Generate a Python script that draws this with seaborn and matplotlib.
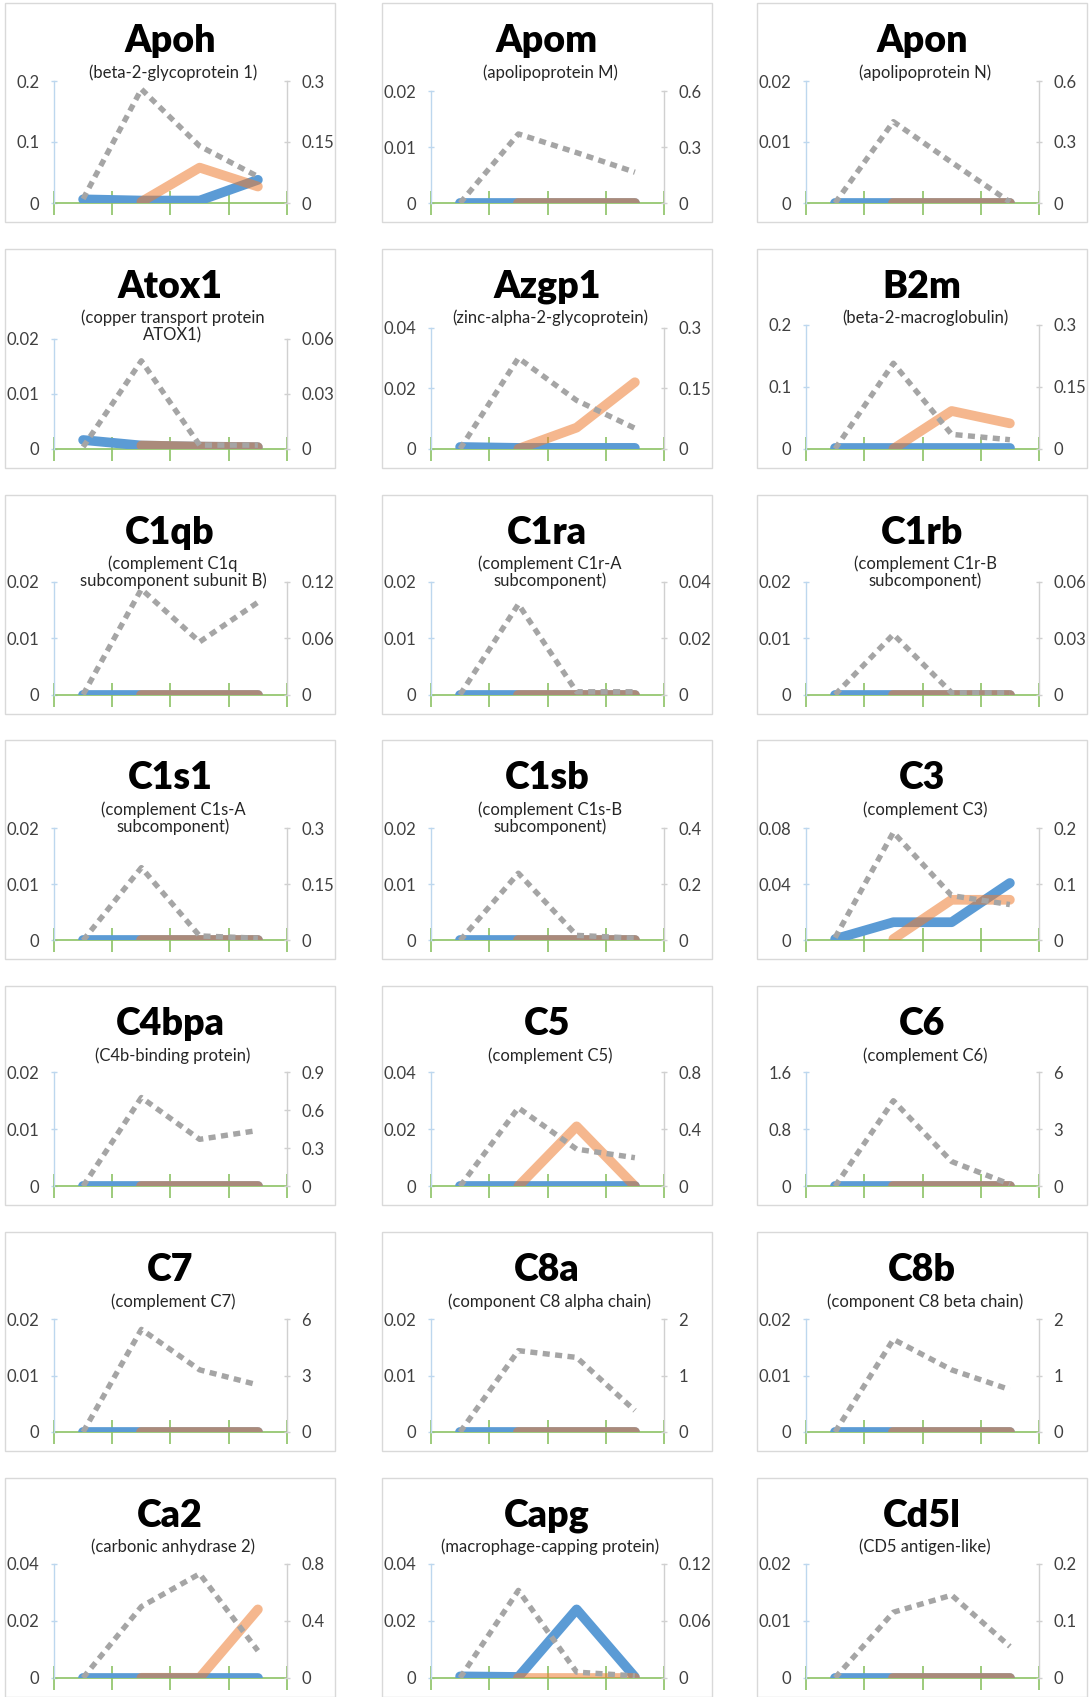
import matplotlib
matplotlib.use("Agg")
import matplotlib.pyplot as plt
import seaborn as sns
import numpy as np
from matplotlib.patches import Rectangle

sns.set_style("white")
plt.rcParams['font.family'] = ['Lato', 'DejaVu Sans']

# ---------------- data ----------------
names = ["Apoh", "Apom", "Apon", "Atox1", "Azgp1", "B2m", "C1qb", "C1ra", "C1rb",
         "C1s1", "C1sb", "C3", "C4bpa", "C5", "C6", "C7", "C8a", "C8b", "Ca2", "Capg", "Cd5l"]
subtitles = ["(beta-2-glycoprotein 1)", "(apolipoprotein M)", "(apolipoprotein N)",
             "(copper transport protein\nATOX1)", "(zinc-alpha-2-glycoprotein)", "(beta-2-macroglobulin)",
             "(complement C1q\nsubcomponent subunit B)", "(complement C1r-A\nsubcomponent)",
             "(complement C1r-B\nsubcomponent)", "(complement C1s-A\nsubcomponent)",
             "(complement C1s-B\nsubcomponent)", "(complement C3)", "(C4b-binding protein)",
             "(complement C5)", "(complement C6)", "(complement C7)", "(component C8 alpha chain)",
             "(component C8 beta chain)", "(carbonic anhydrase 2)", "(macrophage-capping protein)",
             "(CD5 antigen-like)"]
left_max = [0.2, 0.02, 0.02, 0.02, 0.04, 0.2, 0.02, 0.02, 0.02, 0.02, 0.02, 0.08,
            0.02, 0.04, 1.6, 0.02, 0.02, 0.02, 0.04, 0.04, 0.02]
right_max = [0.3, 0.6, 0.6, 0.06, 0.3, 0.3, 0.12, 0.04, 0.06, 0.3, 0.4, 0.2,
             0.9, 0.8, 6, 6, 2, 2, 0.8, 0.12, 0.2]
right_step = [0.15, 0.3, 0.3, 0.03, 0.15, 0.15, 0.06, 0.02, 0.03, 0.15, 0.2, 0.1,
              0.3, 0.4, 3, 3, 1, 1, 0.4, 0.06, 0.1]

stages = [1, 2, 3, 4]

blue = [[0.006, 0.004, 0.004, 0.038], [0, 0, 0, 0], [0, 0, 0, 0],
        [0.0016, 0.0006, 0.0004, 0.0003], [0.0006, 0.0003, 0.0003, 0.0003], [0.001, 0.001, 0.001, 0.001],
        [0, 0, 0, 0], [0, 0, 0, 0], [0, 0, 0, 0],
        [0, 0, 0, 0], [0, 0, 0, 0], [0.001, 0.013, 0.013, 0.041],
        [0, 0, 0, 0], [0, 0, 0, 0], [0, 0, 0, 0],
        [0, 0, 0, 0], [0, 0, 0, 0], [0, 0, 0, 0],
        [0, 0, 0, 0], [0.0005, 0.0003, 0.024, 0.0003], [0, 0, 0, 0]]

orange = [[0.002, 0.058, 0.027], [0, 0, 0], [0, 0, 0],
          [0.0006, 0.0004, 0.0003], [0, 0.007, 0.022], [0, 0.061, 0.041],
          [0, 0, 0], [0, 0, 0], [0, 0, 0],
          [0, 0, 0], [0, 0, 0], [0.001, 0.029, 0.029],
          [0, 0, 0], [0, 0.021, 0], [0, 0, 0],
          [0, 0, 0], [0, 0, 0], [0, 0, 0],
          [0, 0, 0.024], [0, 0, 0], [0, 0, 0]]

grey = [[0.01, 0.28, 0.14, 0.065], [0, 0.37, 0.27, 0.165], [0, 0.4, 0.2, 0.005],
        [0.001, 0.048, 0.002, 0.002], [0, 0.225, 0.12, 0.051], [0, 0.207, 0.035, 0.022],
        [0, 0.112, 0.056, 0.098], [0, 0.032, 0.001, 0.001], [0, 0.032, 0.001, 0.001],
        [0, 0.195, 0.012, 0.006], [0, 0.24, 0.018, 0.008], [0.005, 0.193, 0.08, 0.064],
        [0, 0.7, 0.37, 0.44], [0, 0.55, 0.26, 0.2], [0, 4.5, 1.3, 0.1],
        [0, 5.45, 3.3, 2.5], [0, 1.44, 1.32, 0.38], [0, 1.64, 1.1, 0.75],
        [0, 0.5, 0.73, 0.19], [0, 0.092, 0.006, 0.002], [0, 0.115, 0.145, 0.055]]

# ---------------- layout / style ----------------
W, H = 1089, 1697
BOX_X = [5, 382, 757]
BOX_Y0, ROW_STEP = 3, 245.8
BOX_W, BOX_H = 330, 219
top_off = [78, 88, 78, 90, 79, 76, 87, 87, 87, 88, 88, 88, 86, 86, 86, 87, 87, 87, 86, 86, 86]
ZERO_OFF = 200
L_OFF, R_OFF = 49, 282

BLUE = "#5b9bd5"
ORANGE = "#ed7d31"
GREY = "#a5a5a5"
GREEN = "#8cc265"
LBLUE = "#bdd7ee"
LGREY = "#d0d0d0"
TXT = "#404040"

fig = plt.figure(figsize=(W / 100, H / 100), dpi=100)
fig.patch.set_facecolor("white")


def fx(px):
    return px / W


def fy(py):
    return 1 - py / H


def fmt(v):
    return f"{round(v, 6):g}"


for i, name in enumerate(names):
    r, c = divmod(i, 3)
    bx = BOX_X[c]
    by = BOX_Y0 + r * ROW_STEP
    fig.add_artist(Rectangle((fx(bx), fy(by + BOX_H)), BOX_W / W, BOX_H / H,
                             transform=fig.transFigure, fill=False,
                             edgecolor="#d9d9d9", lw=1))
    ax = fig.add_axes([fx(bx + L_OFF), fy(by + ZERO_OFF),
                       (R_OFF - L_OFF) / W, (ZERO_OFF - top_off[i]) / H])
    ax.set_facecolor("none")
    sns.lineplot(x=stages, y=blue[i], ax=ax, color=BLUE, lw=7,
                 solid_capstyle="round", solid_joinstyle="round", zorder=2)
    sns.lineplot(x=stages[1:], y=orange[i], ax=ax, color=ORANGE, alpha=0.55, lw=7,
                 solid_capstyle="round", solid_joinstyle="round", zorder=3)
    ax.set_xlim(0.5, 4.5)
    ax.set_ylim(0, left_max[i])
    lm = left_max[i]
    ax.set_yticks([0, lm / 2, lm])
    ax.set_yticklabels([fmt(0), fmt(lm / 2), fmt(lm)])
    ax.set_xticks([0.5, 1.5, 2.5, 3.5, 4.5])
    ax.set_xticklabels([])
    ax.set_xlabel("")
    ax.set_ylabel("")
    for s in ["top", "right"]:
        ax.spines[s].set_visible(False)
    ax.spines["left"].set_color(LBLUE)
    ax.spines["left"].set_linewidth(1)
    ax.spines["bottom"].set_color(GREEN)
    ax.spines["bottom"].set_linewidth(1.2)
    ax.spines["bottom"].set_zorder(1.5)
    ax.tick_params(axis="x", direction="inout", length=17, width=1.2, color=GREEN,
                   labelbottom=False, bottom=True)
    ax.tick_params(axis="y", direction="inout", length=5, width=1, color=LBLUE,
                   labelsize=12, labelcolor=TXT, pad=8, left=True)

    ax2 = ax.twinx()
    sns.lineplot(x=stages, y=grey[i], ax=ax2, color=GREY, lw=3.9,
                 linestyle=(0, (1.3, 1.0)), dash_capstyle="butt", zorder=4)
    rm = right_max[i]
    ax2.set_ylim(0, rm)
    rticks = np.arange(0, rm + right_step[i] / 2, right_step[i])
    ax2.set_yticks(rticks)
    ax2.set_yticklabels([fmt(t) for t in rticks])
    ax2.set_xlim(0.5, 4.5)
    ax2.set_ylabel("")
    ax2.set_xlabel("")
    for s in ["top", "left", "bottom"]:
        ax2.spines[s].set_visible(False)
    ax2.spines["right"].set_color(LGREY)
    ax2.spines["right"].set_linewidth(1)
    ax2.tick_params(axis="y", direction="inout", length=5, width=1, color=LGREY,
                    labelsize=12, labelcolor=TXT, pad=8, right=True)
    ax2.tick_params(axis="x", bottom=False, labelbottom=False)

    fig.text(fx(bx + BOX_W / 2), fy(by + 49), name, ha="center", va="baseline",
             fontsize=27, fontweight="heavy", color="black")
    fig.text(fx(bx + BOX_W / 2 + 3), fy(by + 61), subtitles[i], ha="center", va="top",
             fontsize=12, linespacing=1.05, color="#262626")

fig.savefig("out.png", dpi=100, facecolor="white")
